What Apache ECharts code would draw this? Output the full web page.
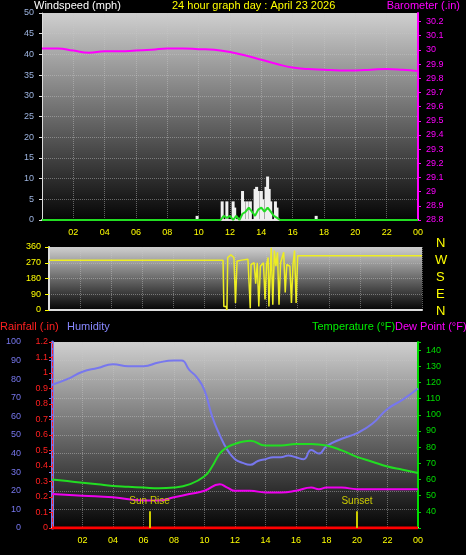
<!DOCTYPE html>
<html><head><meta charset="utf-8">
<script src="https://cdn.jsdelivr.net/npm/echarts@6/dist/echarts.min.js"></script>
<style>html,body{margin:0;background:#000}#c{width:466px;height:555px}</style>
</head><body><div id="c"></div>
<script>
// hours of day (0..24) paired with values
const baroData = [[0,30.01],[1,30.01],[2,29.995],[3,29.98],[4,29.99],[5,29.99],[6,29.995],[7,30.0],[8,30.01],[9,30.01],[10,30.005],[11,30.0],[12,29.985],[13,29.96],[14,29.93],[15,29.9],[16,29.875],[17,29.865],[18,29.86],[19,29.855],[20,29.855],[21,29.86],[22,29.865],[23,29.86],[24,29.85]];
const gustData = [[9.9,1],[11.5,4.5],[11.8,4.5],[12.2,4.5],[12.3,3],[12.8,7],[12.9,4.5],[13.1,4.5],[13.3,4.5],[13.6,7.5],[13.7,8],[13.8,7],[14.0,7],[14.1,5],[14.3,8],[14.4,10.5],[14.5,7.5],[14.6,4.5],[14.9,4.5],[15.0,3],[17.5,1]];
const windAvg = [[0,0],[11.4,0],[11.6,1],[11.8,0.5],[12.0,1],[12.2,0],[12.4,1],[12.6,0],[12.8,1.5],[13.0,2],[13.2,3],[13.4,2],[13.6,1],[13.8,2.5],[14.0,3],[14.2,2],[14.4,3],[14.6,2],[14.8,1],[15.0,0.5],[15.2,0],[24,0]];
const dirData = [[0,285],[11.2,285],[11.25,20],[11.4,20],[11.45,0],[11.5,300],[11.7,315],[11.9,300],[12.0,40],[12.1,280],[12.4,285],[12.8,290],[12.95,10],[13.0,260],[13.2,270],[13.3,150],[13.4,270],[13.5,20],[13.6,250],[13.8,270],[13.9,60],[14.0,260],[14.1,300],[14.15,20],[14.3,355],[14.4,30],[14.5,340],[14.6,250],[14.7,330],[14.8,30],[14.9,270],[15.1,330],[15.2,100],[15.3,260],[15.5,250],[15.6,40],[15.7,260],[15.8,340],[15.9,40],[16.0,310],[16.6,310],[24,310]];
const humData = [[0,77],[1,80],[2,84],[3,86],[4,88],[5,87],[6,87],[7,89],[8,90],[8.5,90],[9,85],[9.5,81],[10,74],[10.5,60],[11,50],[11.5,42],[12,37],[12.5,35],[13,34],[13.5,36],[14,37],[14.5,38],[15,38],[15.5,39],[16,38],[16.5,37],[17,42],[17.5,40],[18,44],[19,48],[20,51],[21,56],[22,64],[23,69],[24,75]];
const tempData = [[0,60],[1,59],[2,58],[3,57],[4,56],[5,55.5],[6,55],[7,54.5],[8,55],[9,57],[10,62],[10.5,68],[11,76],[11.5,80],[12,82],[13,84],[14,81],[15,81],[16,82],[17,82],[18,81],[19,78],[20,74],[21,71],[22,68],[23,66],[24,64]];
const dewData = [[0,51],[2,50],[4,49],[6,47],[7,47],[8,49],[9,51],[10,53],[11,57],[11.5,55],[12,53],[13,53],[14,52],[15,52],[16,53],[17,55],[17.5,54],[18,55],[19,55],[20,54],[22,54],[24,54]];
const rainData = [[0,0],[24,0]];
const sunRise = 6.4, sunSet = 20.0;

const chart = echarts.init(document.getElementById('c'));
const F = 'Liberation Sans';
const bg = {type:'linear',x:0,y:0,x2:0,y2:1,colorStops:[{offset:0,color:'#cfcfcf'},{offset:1,color:'#050505'}]};
const hourLabel = v => v === 0 ? '' : String(v % 24).padStart(2,'0');
const num1 = v => String(parseFloat(v.toFixed(1)));
const split = {show:true,lineStyle:{color:'rgba(200,200,200,0.45)',type:'dotted'}};
function xAx(i, show) {
  return {type:'value',gridIndex:i,min:0,max:24,interval:2,
    axisLine:{show:true,lineStyle:{color:'#ddd',width:2}},axisTick:{show:false},splitLine:split,
    axisLabel:{show:show,color:'#ffff00',fontSize:9,fontFamily:F,formatter:hourLabel}};
}
function yAx(o) {
  return Object.assign({type:'value',axisTick:{show:true,length:3},splitLine:{show:false},
    axisLabel:{fontSize:9,fontFamily:F,margin:5}}, o);
}
chart.setOption({
  backgroundColor:'#000',
  animation:false,
  grid:[
    {left:42,right:48,top:13,height:207,show:true,backgroundColor:bg,borderWidth:0},
    {left:49,right:44,top:247,height:63,show:true,backgroundColor:bg,borderWidth:0},
    {left:52,right:48,top:342,height:186,show:true,backgroundColor:bg,borderWidth:0}
  ],
  xAxis:[xAx(0,true),xAx(1,false),xAx(2,true)],
  yAxis:[
    yAx({gridIndex:0,position:'left',min:0,max:50,interval:5,axisLine:{show:true,lineStyle:{color:'#ddd'}},axisLabel:{color:'#9db4e0',fontSize:9,fontFamily:F},splitLine:split}),
    yAx({gridIndex:0,position:'right',min:28.8,max:30.26,interval:0.1,axisLine:{show:true,lineStyle:{color:'#ff00ff',width:2}},axisLabel:{color:'#ff00ff',fontSize:9,fontFamily:F,formatter:num1}}),
    yAx({gridIndex:1,position:'left',min:0,max:360,interval:90,axisLine:{show:true,lineStyle:{color:'#ddd',width:2}},axisLabel:{color:'#ffff00',fontSize:9,fontFamily:F},axisTick:{show:true,length:4,lineStyle:{color:'#ffff00'}},splitLine:split}),
    yAx({gridIndex:2,position:'left',min:0,max:100,interval:10,offset:23,axisLine:{show:true,lineStyle:{color:'#7777ee',width:3}},axisLabel:{color:'#7777ee',fontSize:9,fontFamily:F},splitLine:split}),
    yAx({gridIndex:2,position:'left',offset:0,min:0,max:1.2,interval:0.1,axisLine:{show:true,lineStyle:{color:'#ff2020',type:'dashed'}},axisLabel:{color:'#ff2020',fontSize:9,fontFamily:F,margin:4,formatter:num1}}),
    yAx({gridIndex:2,position:'right',min:30,max:145,interval:10,axisLine:{show:true,lineStyle:{color:'#00dd00',width:2}},axisLabel:{color:'#00dd00',fontSize:9,fontFamily:F,formatter:v => (v < 40 || v > 140) ? '' : String(v)}})
  ],
  graphic:[
    {type:'text',left:34,top:0,style:{text:'Windspeed (mph)',fill:'#fff',font:'11px '+F}},
    {type:'text',left:172,top:0,style:{text:'24 hour graph day : April 23 2026',fill:'#ffff00',font:'11px '+F}},
    {type:'text',right:6,top:0,style:{text:'Barometer (.in)',fill:'#ff00ff',font:'11px '+F}},
    {type:'text',left:0,top:321,style:{text:'Rainfall (.in)',fill:'#ff2020',font:'11px '+F}},
    {type:'text',left:67,top:321,style:{text:'Humidity',fill:'#8888ff',font:'11px '+F}},
    {type:'text',left:312,top:321,style:{text:'Temperature (°F)',fill:'#00ee00',font:'11px '+F}},
    {type:'text',left:395,top:321,style:{text:'Dew Point (°F)',fill:'#ff00ff',font:'11px '+F}},
    {type:'text',left:436,top:237,style:{text:'N',fill:'#ffff00',font:'13px '+F}},
    {type:'text',left:435,top:254,style:{text:'W',fill:'#ffff00',font:'13px '+F}},
    {type:'text',left:436,top:271,style:{text:'S',fill:'#ffff00',font:'13px '+F}},
    {type:'text',left:436,top:288,style:{text:'E',fill:'#ffff00',font:'13px '+F}},
    {type:'text',left:436,top:305,style:{text:'N',fill:'#ffff00',font:'13px '+F}}
  ],
  series:[
    {type:'bar',xAxisIndex:0,yAxisIndex:0,data:gustData,barWidth:3,itemStyle:{color:'#f0f0f0'}},
    {type:'line',xAxisIndex:0,yAxisIndex:0,data:windAvg,symbol:'none',lineStyle:{color:'#22dd22',width:2}},
    {type:'line',xAxisIndex:0,yAxisIndex:1,data:baroData,symbol:'none',smooth:true,lineStyle:{color:'#ff00ff',width:2}},
    {type:'line',xAxisIndex:1,yAxisIndex:2,data:dirData,symbol:'none',lineStyle:{color:'#eeee22',width:1.5}},
    {type:'line',xAxisIndex:2,yAxisIndex:3,data:humData,symbol:'none',smooth:true,lineStyle:{color:'#7777ee',width:2},
      markLine:{silent:true,symbol:'none',lineStyle:{color:'#cccc00',type:'solid',width:2},
        label:{color:'#cccc00',fontSize:10,fontFamily:F,position:'end'},
        data:[[{coord:[sunRise,0],name:'Sun Rise'},{coord:[sunRise,9]}],[{coord:[sunSet,0],name:'Sunset'},{coord:[sunSet,9]}]]}},
    {type:'line',xAxisIndex:2,yAxisIndex:4,data:rainData,symbol:'none',lineStyle:{color:'#ff0000',width:3}},
    {type:'line',xAxisIndex:2,yAxisIndex:5,data:tempData,symbol:'none',smooth:true,lineStyle:{color:'#22dd22',width:2}},
    {type:'line',xAxisIndex:2,yAxisIndex:5,data:dewData,symbol:'none',smooth:true,lineStyle:{color:'#ee00ee',width:2}}
  ]
});
</script></body></html>
